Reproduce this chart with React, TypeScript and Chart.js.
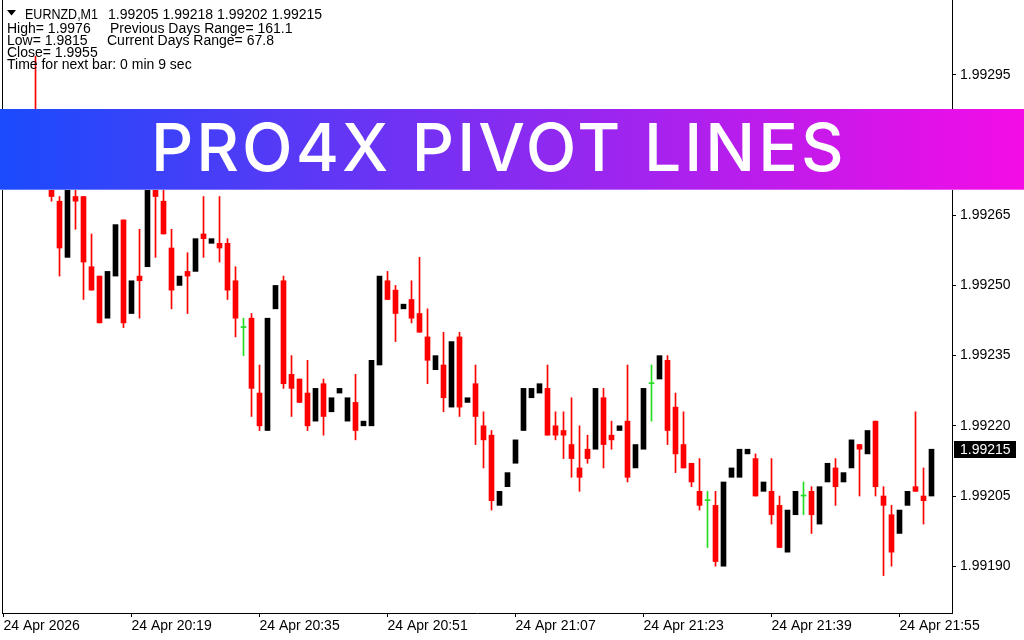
import React, { useEffect, useRef } from "react";
import { Chart, registerables } from "chart.js";

Chart.register(...registerables);

// ---- data (EURNZD M1, bar index 0 = 24 Apr 2026 20:03) ----
const opens = [
  1.99280, 1.99279, 1.99283, 1.99281, 1.99284, 1.99278, 1.99274, 1.99268, 1.99256, 1.99269,
  1.99269, 1.99254, 1.99252, 1.99243, 1.99252, 1.99264, 1.99244, 1.99252, 1.99254, 1.99274,
  1.99268, 1.99258, 1.99250, 1.99253, 1.99253, 1.99261, 1.99259, 1.99259, 1.99259, 1.99251,
  1.99241, 1.99243, 1.99227, 1.99219, 1.99245, 1.99251, 1.99231, 1.99230, 1.99227, 1.99221,
  1.99229, 1.99223, 1.99227, 1.99221, 1.99225, 1.99220, 1.99220, 1.99233, 1.99251, 1.99249,
  1.99245, 1.99247, 1.99244, 1.99239, 1.99232, 1.99233, 1.99224, 1.99239, 1.99225, 1.99229,
  1.99220, 1.99218, 1.99203, 1.99207, 1.99212, 1.99219, 1.99226, 1.99227, 1.99228, 1.99220,
  1.99219, 1.99216, 1.99211, 1.99215, 1.99215, 1.99226, 1.99218, 1.99219, 1.99221, 1.99211,
  1.99215, 1.99229, 1.99230, 1.99234, 1.99224, 1.99216, 1.99212, 1.99206, 1.99204, 1.99203,
  1.99190, 1.99209, 1.99209, 1.99214, 1.99213, 1.99206, 1.99206, 1.99203, 1.99193, 1.99201,
  1.99205, 1.99206, 1.99199, 1.99208, 1.99211, 1.99208, 1.99211, 1.99216, 1.99214, 1.99221,
  1.99205, 1.99201, 1.99197, 1.99203, 1.99207, 1.99205, 1.99205,
];
const highs = [
  1.99283, 1.99284, 1.99286, 1.99285, 1.99299, 1.99281, 1.99276, 1.99269, 1.99273, 1.99272,
  1.99269, 1.99261, 1.99252, 1.99253, 1.99263, 1.99264, 1.99251, 1.99262, 1.99276, 1.99276,
  1.99274, 1.99262, 1.99252, 1.99257, 1.99260, 1.99269, 1.99260, 1.99269, 1.99260, 1.99254,
  1.99243, 1.99244, 1.99233, 1.99243, 1.99250, 1.99252, 1.99235, 1.99230, 1.99234, 1.99228,
  1.99230, 1.99226, 1.99228, 1.99226, 1.99231, 1.99221, 1.99234, 1.99252, 1.99253, 1.99250,
  1.99246, 1.99251, 1.99256, 1.99245, 1.99235, 1.99240, 1.99238, 1.99240, 1.99226, 1.99233,
  1.99223, 1.99219, 1.99206, 1.99210, 1.99217, 1.99228, 1.99228, 1.99229, 1.99233, 1.99223,
  1.99223, 1.99226, 1.99220, 1.99218, 1.99228, 1.99228, 1.99221, 1.99220, 1.99233, 1.99216,
  1.99228, 1.99233, 1.99235, 1.99235, 1.99227, 1.99223, 1.99212, 1.99213, 1.99206, 1.99206,
  1.99208, 1.99211, 1.99215, 1.99215, 1.99214, 1.99208, 1.99213, 1.99205, 1.99202, 1.99206,
  1.99208, 1.99207, 1.99207, 1.99212, 1.99213, 1.99210, 1.99217, 1.99216, 1.99219, 1.99221,
  1.99207, 1.99203, 1.99202, 1.99206, 1.99223, 1.99211, 1.99218,
];
const lows = [
  1.99277, 1.99278, 1.99280, 1.99279, 1.99276, 1.99273, 1.99268, 1.99252, 1.99256, 1.99262,
  1.99247, 1.99249, 1.99242, 1.99243, 1.99252, 1.99241, 1.99244, 1.99243, 1.99254, 1.99256,
  1.99261, 1.99245, 1.99250, 1.99244, 1.99253, 1.99256, 1.99259, 1.99255, 1.99247, 1.99239,
  1.99235, 1.99222, 1.99219, 1.99219, 1.99245, 1.99228, 1.99222, 1.99225, 1.99219, 1.99221,
  1.99218, 1.99223, 1.99227, 1.99221, 1.99217, 1.99220, 1.99220, 1.99233, 1.99247, 1.99238,
  1.99245, 1.99242, 1.99240, 1.99229, 1.99232, 1.99223, 1.99224, 1.99222, 1.99225, 1.99216,
  1.99211, 1.99202, 1.99203, 1.99207, 1.99212, 1.99219, 1.99226, 1.99227, 1.99218, 1.99217,
  1.99213, 1.99209, 1.99206, 1.99212, 1.99215, 1.99211, 1.99215, 1.99219, 1.99208, 1.99211,
  1.99215, 1.99221, 1.99230, 1.99216, 1.99210, 1.99211, 1.99207, 1.99202, 1.99194, 1.99190,
  1.99190, 1.99209, 1.99209, 1.99214, 1.99205, 1.99206, 1.99199, 1.99194, 1.99193, 1.99201,
  1.99201, 1.99197, 1.99199, 1.99208, 1.99203, 1.99208, 1.99211, 1.99205, 1.99214, 1.99205,
  1.99188, 1.99190, 1.99197, 1.99203, 1.99206, 1.99199, 1.99202,
];
const closes = [
  1.99279, 1.99283, 1.99281, 1.99284, 1.99278, 1.99275, 1.99269, 1.99258, 1.99273, 1.99268,
  1.99255, 1.99249, 1.99242, 1.99253, 1.99263, 1.99242, 1.99251, 1.99251, 1.99276, 1.99269,
  1.99261, 1.99249, 1.99252, 1.99252, 1.99260, 1.99260, 1.99260, 1.99258, 1.99249, 1.99243,
  1.99241, 1.99228, 1.99220, 1.99243, 1.99250, 1.99229, 1.99228, 1.99225, 1.99220, 1.99228,
  1.99222, 1.99226, 1.99228, 1.99226, 1.99219, 1.99221, 1.99234, 1.99252, 1.99247, 1.99244,
  1.99246, 1.99243, 1.99240, 1.99234, 1.99235, 1.99226, 1.99238, 1.99224, 1.99226, 1.99222,
  1.99217, 1.99204, 1.99206, 1.99210, 1.99217, 1.99228, 1.99228, 1.99229, 1.99218, 1.99218,
  1.99218, 1.99213, 1.99209, 1.99213, 1.99228, 1.99216, 1.99217, 1.99220, 1.99209, 1.99216,
  1.99228, 1.99229, 1.99235, 1.99219, 1.99214, 1.99211, 1.99208, 1.99203, 1.99204, 1.99191,
  1.99208, 1.99211, 1.99215, 1.99215, 1.99205, 1.99208, 1.99201, 1.99194, 1.99202, 1.99206,
  1.99205, 1.99201, 1.99207, 1.99212, 1.99207, 1.99210, 1.99217, 1.99215, 1.99219, 1.99207,
  1.99203, 1.99193, 1.99202, 1.99206, 1.99206, 1.99204, 1.99215,
];

const xTickIndex = [0, 16, 32, 48, 64, 80, 96, 112];
const xTickLabels = [
  "24 Apr 2026", "24 Apr 20:19", "24 Apr 20:35", "24 Apr 20:51",
  "24 Apr 21:07", "24 Apr 21:23", "24 Apr 21:39", "24 Apr 21:55",
];
const yTicks = [1.99190, 1.99205, 1.99220, 1.99235, 1.99250, 1.99265, 1.99280, 1.99295];
const yMin = 1.99180;
const yMax = 1.99311;

const headerSymbol = "EURNZD,M1";
const headerOhlc = "1.99205 1.99218 1.99202 1.99215";
const infoLeft = ["High= 1.9976", "Low= 1.9815", "Close= 1.9955", "Time for next bar: 0 min 9 sec"];
const infoRight = ["Previous Days Range= 161.1", "Current Days Range= 67.8"];
const bannerTitle = "PRO4X PIVOT LINES";

const FONT = '"Liberation Sans", Arial, sans-serif';
const RED = "#ff0000";
const BLACK = "#000000";
const GREEN = "#22dd22";

function candleColor(i: number, wick: boolean): string {
  if (closes[i] > opens[i]) return wick ? "#ffffff" : BLACK;
  if (closes[i] < opens[i]) return RED;
  return GREEN;
}

const noPad = (s: any) => {
  s.paddingTop = 0;
  s.paddingBottom = 0;
  s.paddingLeft = 0;
  s.paddingRight = 0;
};

const overlayPlugin = {
  id: "mt4Overlay",
  afterDraw(chart: any) {
    const ctx: CanvasRenderingContext2D = chart.ctx;
    const yScale = chart.scales.y;
    ctx.save();

    // header info
    ctx.fillStyle = "#000";
    ctx.font = `14px ${FONT}`;
    ctx.textAlign = "left";
    ctx.textBaseline = "alphabetic";
    ctx.beginPath();
    ctx.moveTo(7, 10);
    ctx.lineTo(16, 10);
    ctx.lineTo(11.5, 15.5);
    ctx.closePath();
    ctx.fill();
    ctx.fillText(headerSymbol, 25, 18.5, 73);
    ctx.fillText(headerOhlc, 108, 18.5);
    const baselines = [33, 44.8, 56.8, 68.5];
    infoLeft.forEach((t, k) => ctx.fillText(t, 7, baselines[k]));
    ctx.fillText(infoRight[0], 110, baselines[0]);
    ctx.fillText(infoRight[1], 107, baselines[1]);

    // current price label
    const last = closes.length - 1;
    const py = yScale.getPixelForValue(closes[last]);
    ctx.fillStyle = "#000";
    ctx.fillRect(954, Math.round(py) - 8, 62, 17);
    ctx.fillStyle = "#fff";
    ctx.textBaseline = "middle";
    ctx.fillText(closes[last].toFixed(5), 960, py + 0.5);

    // banner
    const g = ctx.createLinearGradient(0, 0, 1024, 0);
    g.addColorStop(0, "#1a4bfc");
    g.addColorStop(1, "#f40ce6");
    ctx.fillStyle = g;
    ctx.fillRect(0, 109, 1024, 81);
    ctx.fillStyle = "rgba(255,255,255,0.3)";
    ctx.fillRect(0, 189, 1024, 1);
    ctx.fillStyle = "#ffffff";
    ctx.font = '500 66px Inter, "Noto Sans", sans-serif';
    (ctx as any).letterSpacing = "3px";
    ctx.textBaseline = "alphabetic";
    ctx.fillText(bannerTitle, 151, 170.7);
    ctx.restore();
  },
};

export default function App() {
  const ref = useRef<HTMLCanvasElement | null>(null);

  useEffect(() => {
    if (!ref.current) return;
    const bodyData = opens.map((o, i) => ({ x: i, y: [o, closes[i]] }));
    const wickData = opens.map((_, i) => ({ x: i, y: [lows[i], highs[i]] }));
    const tickFont = { family: FONT, size: 14 };

    const chart = new Chart(ref.current, {
      type: "bar",
      data: {
        datasets: [
          {
            label: "body",
            data: bodyData as any,
            backgroundColor: opens.map((_, i) => candleColor(i, false)),
            barThickness: 5,
            minBarLength: 1,
            grouped: false,
            order: 0,
            borderWidth: 0,
            yAxisID: "y",
            xAxisID: "x",
          },
          {
            label: "wick",
            data: wickData as any,
            backgroundColor: opens.map((_, i) => candleColor(i, true)),
            barThickness: 1,
            grouped: false,
            order: 1,
            borderWidth: 0,
            yAxisID: "y",
            xAxisID: "x",
          },
        ],
      },
      options: {
        responsive: false,
        animation: false,
        events: [],
        layout: { padding: 0 },
        plugins: {
          legend: { display: false },
          tooltip: { enabled: false },
          title: { display: false },
        },
        scales: {
          x: {
            type: "linear",
            position: "bottom",
            min: -0.1875,
            max: 118.5625,
            offset: false,
            bounds: "data",
            grid: {
              display: true,
              drawOnChartArea: false,
              drawTicks: true,
              tickLength: 4,
              tickColor: "#000",
              offset: false,
            },
            border: { display: true, color: "#000", width: 1 },
            ticks: {
              autoSkip: false,
              maxRotation: 0,
              minRotation: 0,
              align: "start",
              padding: 1,
              color: "#000",
              font: tickFont,
              callback: (_v: any, idx: number) => xTickLabels[idx] ?? "",
            },
            afterBuildTicks: (s: any) => {
              s.ticks = xTickIndex.map((v) => ({ value: v }));
            },
            afterFit: (s: any) => {
              s.height = 27;
              noPad(s);
            },
          },
          y: {
            type: "linear",
            position: "right",
            min: yMin,
            max: yMax,
            bounds: "data",
            grid: {
              display: true,
              drawOnChartArea: false,
              drawTicks: true,
              tickLength: 4,
              tickColor: "#000",
            },
            border: { display: true, color: "#000", width: 1 },
            ticks: {
              padding: 4,
              color: "#000",
              font: tickFont,
              callback: (v: any) => Number(v).toFixed(5),
            },
            afterBuildTicks: (s: any) => {
              s.ticks = yTicks.map((v) => ({ value: v }));
            },
            afterFit: (s: any) => {
              s.width = 72;
              noPad(s);
            },
          },
          yl: {
            type: "linear",
            position: "left",
            display: true,
            grid: { display: false, drawTicks: false },
            border: { display: true, color: "#000", width: 1 },
            ticks: { display: false },
            afterFit: (s: any) => {
              s.width = 2;
              noPad(s);
            },
          },
        },
      } as any,
      plugins: [overlayPlugin as any],
    });

    return () => chart.destroy();
  }, []);

  return (
    <div
      style={{
        position: "fixed",
        left: 0,
        top: 0,
        width: 1024,
        height: 640,
        background: "#ffffff",
        overflow: "hidden",
      }}
    >
      <canvas ref={ref} width={1024} height={640} style={{ display: "block" }} />
    </div>
  );
}
